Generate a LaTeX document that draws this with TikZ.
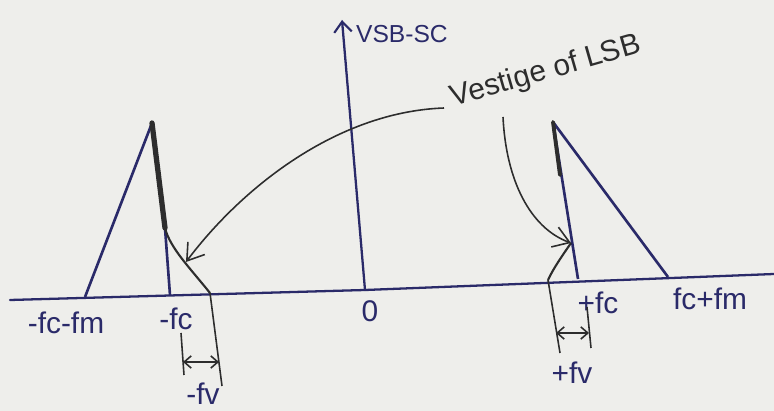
\documentclass[tikz,border=0pt]{standalone}
\usepackage{fontspec}
\setmainfont{Liberation Sans}
\usetikzlibrary{arrows.meta}
\definecolor{paper}{RGB}{238,238,235}
\definecolor{navy}{RGB}{42,42,105}
\definecolor{ink}{RGB}{45,45,45}
\tikzset{
  axisline/.style={navy, line width=1.3pt, line cap=round},
  specline/.style={navy, line width=1.5pt, line join=round},
  vestline/.style={ink, line width=1.2pt},
  thickink/.style={ink, line width=3pt, line cap=round},
  callout/.style={ink, line width=0.9pt, -{Straight Barb[length=9pt,width=12pt,line width=0.9pt]}},
  dimtick/.style={ink, line width=0.9pt},
  dimarrow/.style={ink, line width=0.9pt, {Straight Barb[length=4pt,width=7pt]}-{Straight Barb[length=4pt,width=7pt]}},
  lbl/.style={navy, font=\fontsize{17}{19}\selectfont, inner sep=1pt},
}
\begin{document}
\begin{tikzpicture}[x=0.02cm, y=-0.02cm]
\fill[paper] (0,0) rectangle (774,411);
\useasboundingbox (0,0) rectangle (774,411);
% axes
\coordinate (axL) at (10,300);
\coordinate (axM) at (365,290);
\coordinate (axR) at (774,274);
\draw[axisline] (axL) -- (axM) -- (axR);
\coordinate (vtip) at (342,20);
\draw[axisline, -{Straight Barb[length=6pt,width=10pt,line width=1.2pt]}] (axM) -- (vtip);
\node[lbl, font=\fontsize{14}{16}\selectfont, anchor=west] (vsb) at (354,34) {VSB-SC};
\node[lbl] (zero) at (370,311) {0};
% left spectrum
\coordinate (lA) at (85,297);
\coordinate (lP) at (152,123);
\coordinate (lK) at (165,228);
\coordinate (lC) at (170,295);
\coordinate (lV) at (210,293);
\draw[specline] (lA) -- (lP) -- (lK) -- (lC);
\draw[thickink] (lP) -- (lK);
\draw[vestline] (lK) .. controls (170,248) and (190,268) .. (lV);
% right spectrum
\coordinate (rV) at (548,280);
\coordinate (rC) at (578,279);
\coordinate (rP) at (553,122);
\coordinate (rM) at (668,277);
\coordinate (rJ) at (571,243);
\draw[specline] (rC) -- (rP) -- (rM);
\draw[ink, line width=2.2pt, line cap=round] (rP) -- (560,175);
\draw[vestline] (rV) .. controls (553,269) and (562,256) .. (rJ);
% axis labels
\node[lbl] (lAm) at (66,323) {-fc-fm};
\node[lbl] (lCm) at (176,319) {-fc};
\node[lbl] (rCm) at (598,303) {+fc};
\node[lbl] (rMm) at (710,299) {fc+fm};
% left vestige width
\coordinate (ltA) at (181,333);
\coordinate (ltB) at (184,375);
\coordinate (ltC) at (222,386);
\coordinate (ldA) at (183,362);
\coordinate (ldB) at (219,362);
\draw[dimtick] (ltA) -- (ltB);
\draw[dimtick] (lV) -- (ltC);
\draw[dimarrow] (ldA) -- (ldB);
\node[lbl] (lfv) at (203,394) {-fv};
% right vestige width
\coordinate (rtA) at (560,353);
\coordinate (rtB) at (587,307);
\coordinate (rtC) at (591,348);
\coordinate (rdA) at (556,333);
\coordinate (rdB) at (589,333);
\draw[dimtick] (rV) -- (rtA);
\draw[dimtick] (rtB) -- (rtC);
\draw[dimarrow] (rdA) -- (rdB);
\node[lbl] (rfv) at (572,373) {+fv};
% callout
\node[ink, font=\fontsize{17}{19}\selectfont, rotate=16, inner sep=1pt] (vest) at (546,72) {Vestige of LSB};
\coordinate (cL) at (444,108);
\coordinate (cLe) at (186,262);
\coordinate (cR) at (503,117);
\draw[callout] (cL) .. controls (335,112) and (240,190) .. (cLe);
\draw[callout] (cR) .. controls (506,180) and (530,228) .. (rJ);
\end{tikzpicture}
\end{document}
